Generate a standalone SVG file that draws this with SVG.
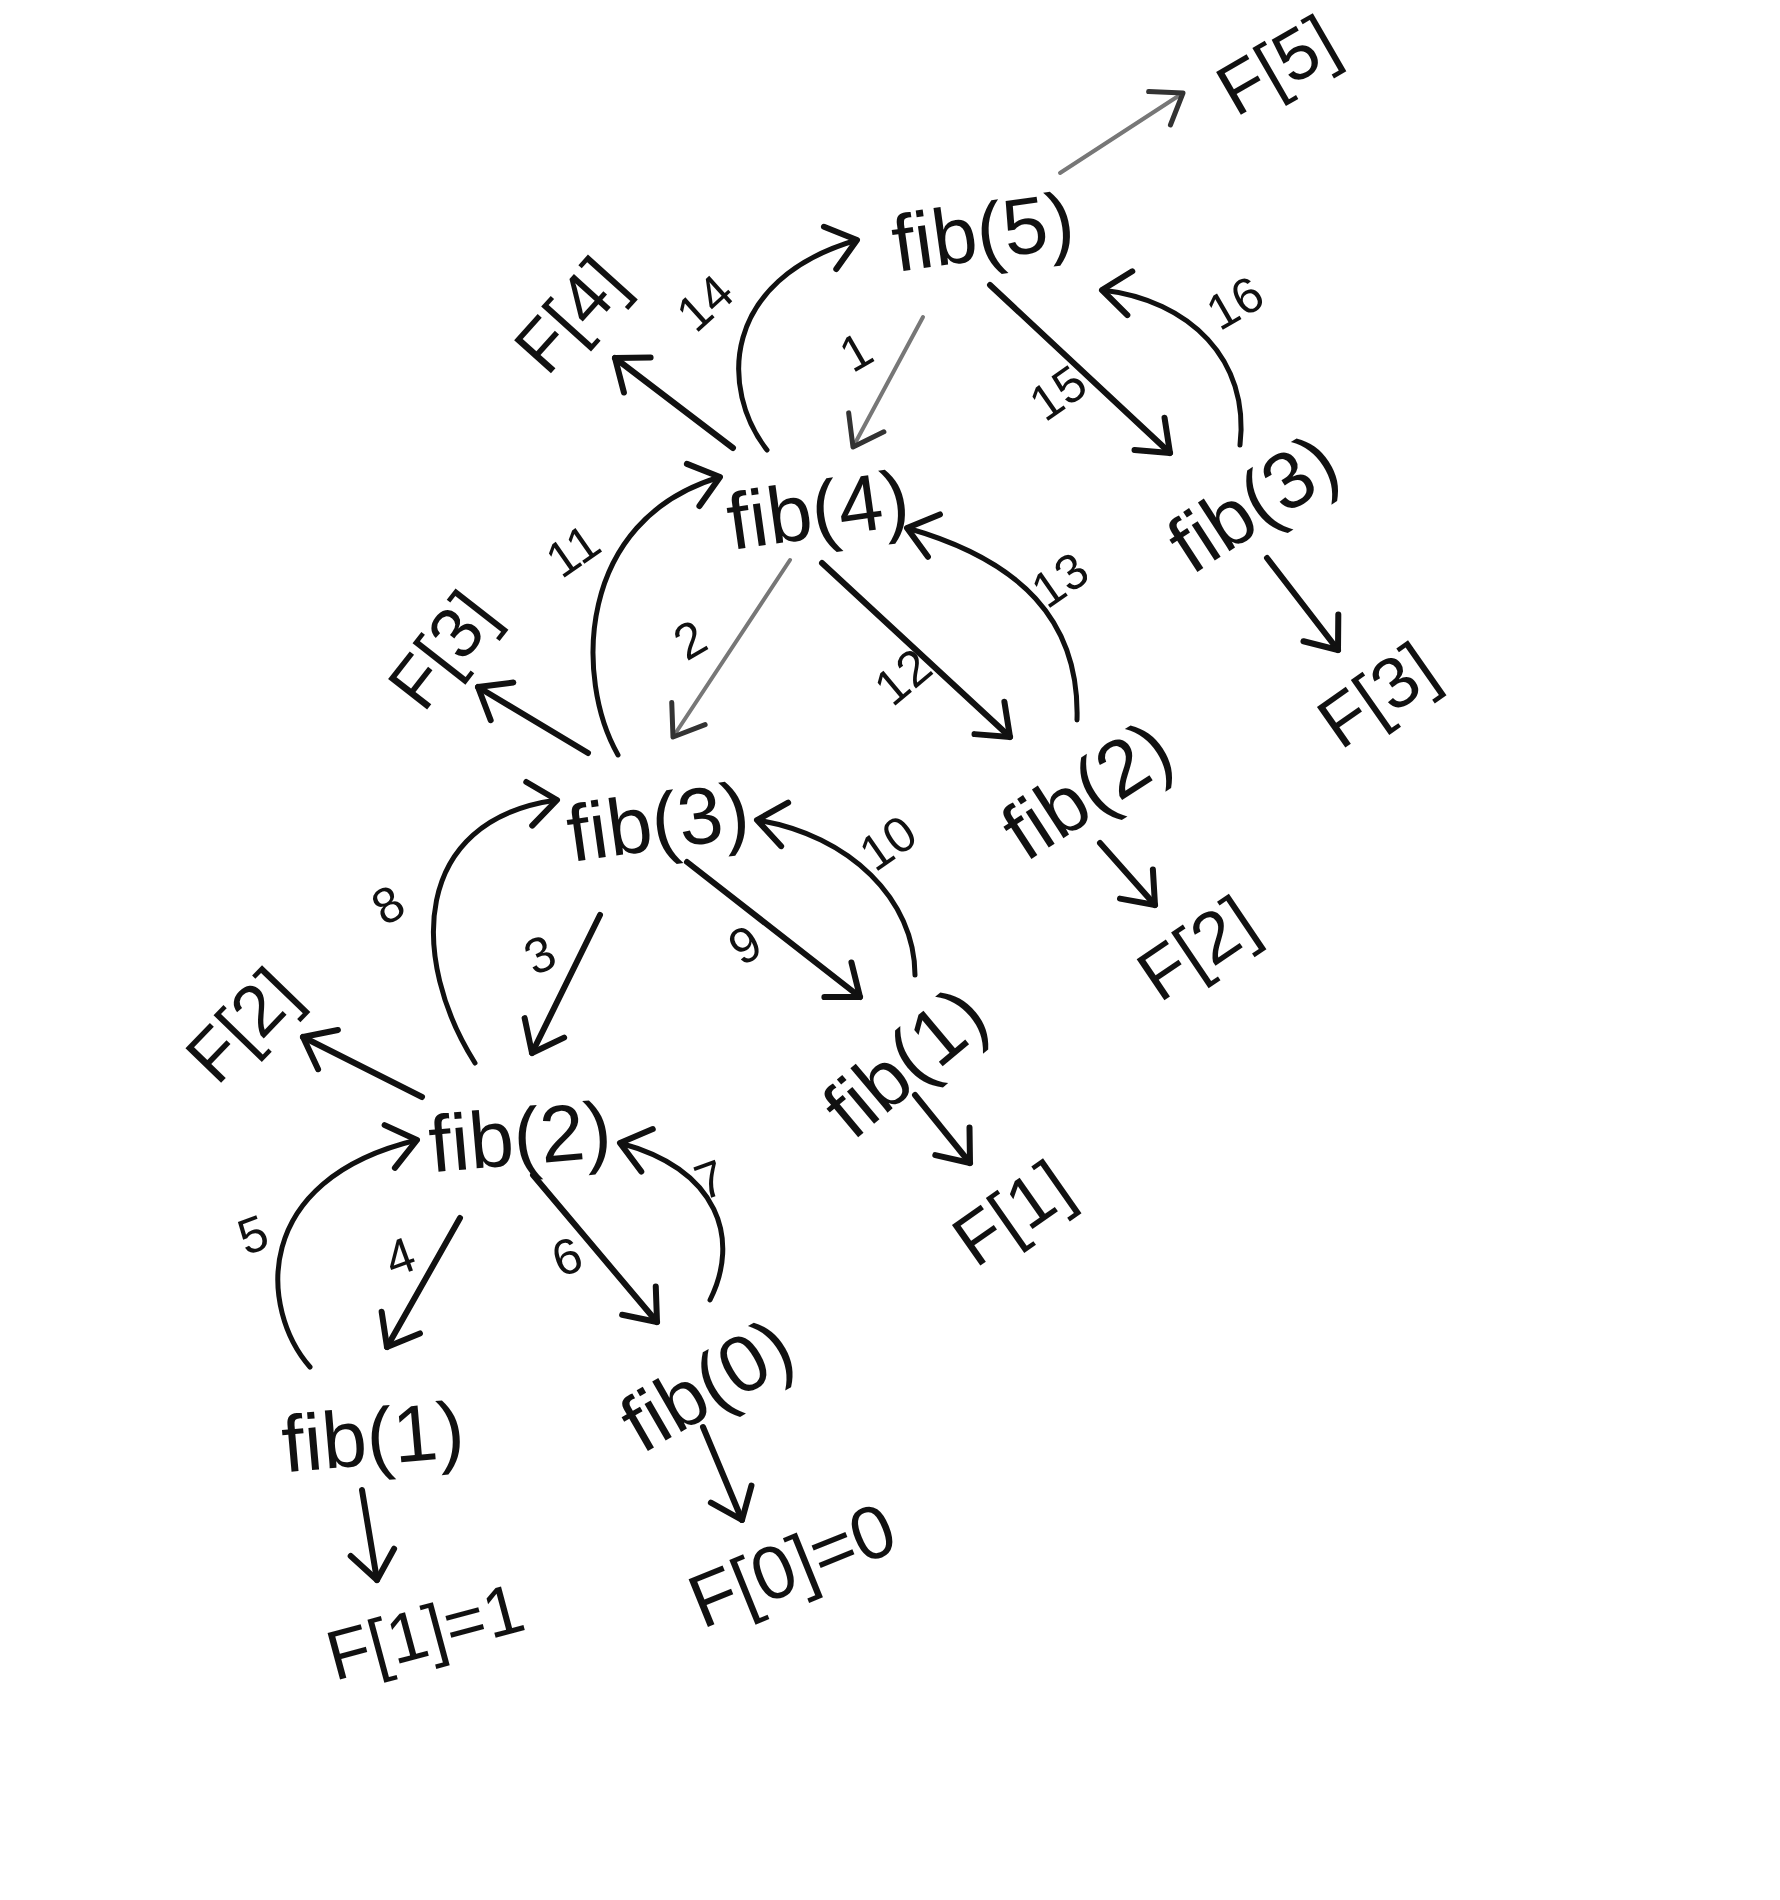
<svg xmlns="http://www.w3.org/2000/svg" width="1780" height="1900" viewBox="0 0 1780 1900">
<style>
.n text{font-family:"Liberation Sans",Arial,sans-serif;fill:#111;text-anchor:middle;dominant-baseline:central}
.fib{font-size:80px}
.fv{font-size:72px}
.lbl{font-family:"Liberation Sans",Arial,sans-serif;font-size:50px;fill:#111;text-anchor:middle;dominant-baseline:central}
.e{fill:none;stroke:#111;stroke-width:6;stroke-linecap:round;marker-end:url(#ah)}
.c{fill:none;stroke:#111;stroke-width:5;stroke-linecap:round;marker-end:url(#ah)}
.g{fill:none;stroke:#777;stroke-width:4;stroke-linecap:round;marker-end:url(#ahg)}
</style>
<defs>
<marker id="ah" markerUnits="userSpaceOnUse" orient="auto" refX="0" refY="0" markerWidth="80" markerHeight="80" viewBox="-40 -40 80 80" overflow="visible">
<path d="M-28,-22 L0,0 L-28,22" fill="none" stroke="#111" stroke-width="6" stroke-linecap="round" stroke-linejoin="round"/>
</marker>
<marker id="ahg" markerUnits="userSpaceOnUse" orient="auto" refX="0" refY="0" markerWidth="80" markerHeight="80" viewBox="-40 -40 80 80" overflow="visible">
<path d="M-28,-20 L0,0 L-28,20" fill="none" stroke="#333" stroke-width="5" stroke-linecap="round" stroke-linejoin="round"/>
</marker>
</defs>
<rect width="1780" height="1900" fill="#fff"/>

<g id="connectors">
<path class="g" d="M1060,173 L1183,93"/>
<path class="e" d="M733,448 L615,358"/>
<path class="g" d="M923,317 L853,447"/>
<path class="e" d="M990,285 L1170,453"/>
<path class="e" d="M1267,558 L1338,650"/>
<path class="e" d="M588,753 L478,687"/>
<path class="g" d="M790,560 L673,737"/>
<path class="e" d="M822,563 L1010,737"/>
<path class="e" d="M1100,843 L1155,905"/>
<path class="e" d="M600,915 L532,1053"/>
<path class="e" d="M687,862 L860,997"/>
<path class="e" d="M915,1095 L970,1163"/>
<path class="e" d="M422,1097 L303,1037"/>
<path class="e" d="M460,1218 L387,1347"/>
<path class="e" d="M533,1175 L657,1322"/>
<path class="e" d="M362,1490 L377,1580"/>
<path class="e" d="M703,1427 L742,1520"/>
<path class="c" d="M767,450 C720,390 720,280 857,240"/>
<path class="c" d="M1240,445 C1250,360 1190,300 1102,290"/>
<path class="c" d="M618,755 C575,680 575,520 720,477"/>
<path class="c" d="M1077,720 C1080,620 1020,560 907,528"/>
<path class="c" d="M475,1063 C410,960 410,820 557,800"/>
<path class="c" d="M915,975 C915,900 850,835 757,820"/>
<path class="c" d="M310,1367 C260,1310 250,1180 417,1140"/>
<path class="c" d="M710,1300 C740,1240 720,1170 620,1143"/>
</g>

<g id="edge-labels">
<text class="lbl" transform="translate(856,352) rotate(-30)">1</text>
<text class="lbl" transform="translate(690,640) rotate(-30)">2</text>
<text class="lbl" transform="translate(540,955) rotate(-25)">3</text>
<text class="lbl" transform="translate(400,1257) rotate(-20)">4</text>
<text class="lbl" transform="translate(253,1235) rotate(-20)">5</text>
<text class="lbl" transform="translate(567,1257) rotate(-20)">6</text>
<text class="lbl" transform="translate(710,1180) rotate(-20)">7</text>
<text class="lbl" transform="translate(388,905) rotate(-30)">8</text>
<text class="lbl" transform="translate(745,945) rotate(-30)">9</text>
<text class="lbl" transform="translate(888,843) rotate(-35)">10</text>
<text class="lbl" transform="translate(573,551) rotate(-35)">11</text>
<text class="lbl" transform="translate(903,677) rotate(-40)">12</text>
<text class="lbl" transform="translate(1060,580) rotate(-35)">13</text>
<text class="lbl" transform="translate(705,303) rotate(-42)">14</text>
<text class="lbl" transform="translate(1058,393) rotate(-35)">15</text>
<text class="lbl" transform="translate(1235,303) rotate(-30)">16</text>
</g>

<g id="fib5" class="n"><text class="fib" transform="translate(983,232) rotate(-8)">fib(5)</text></g>
<g id="F5" class="n"><text class="fv" transform="translate(1277,65) rotate(-30)">F[5]</text></g>
<g id="F4" class="n"><text class="fv" transform="translate(570,315) rotate(-48)">F[4]</text></g>
<g id="fib4" class="n"><text class="fib" transform="translate(818,510) rotate(-8)">fib(4)</text></g>
<g id="fib3r" class="n"><text class="fib" transform="translate(1253,503) rotate(-33)">fib(3)</text></g>
<g id="F3r" class="n"><text class="fv" transform="translate(1377,695) rotate(-35)">F[3]</text></g>
<g id="F3l" class="n"><text class="fv" transform="translate(442,650) rotate(-52)">F[3]</text></g>
<g id="fib3m" class="n"><text class="fib" transform="translate(658,822) rotate(-8)">fib(3)</text></g>
<g id="fib2r" class="n"><text class="fib" transform="translate(1087,790) rotate(-33)">fib(2)</text></g>
<g id="F2r" class="n"><text class="fv" transform="translate(1197,948) rotate(-34)">F[2]</text></g>
<g id="F2l" class="n"><text class="fv" transform="translate(242,1025) rotate(-46)">F[2]</text></g>
<g id="fib2b" class="n"><text class="fib" transform="translate(520,1137) rotate(-5)">fib(2)</text></g>
<g id="fib1m" class="n"><text class="fib" transform="translate(905,1062) rotate(-40)">fib(1)</text></g>
<g id="F1m" class="n"><text class="fv" transform="translate(1012,1213) rotate(-35)">F[1]</text></g>
<g id="fib1b" class="n"><text class="fib" transform="translate(373,1437) rotate(-5)">fib(1)</text></g>
<g id="F1eq" class="n"><text class="fv" style="font-size:70px" transform="translate(425,1632) rotate(-15)">F[1]=1</text></g>
<g id="fib0" class="n"><text class="fib" transform="translate(707,1385) rotate(-30)">fib(0)</text></g>
<g id="F0eq" class="n"><text class="fv" style="font-size:75px" transform="translate(792,1565) rotate(-22)">F[0]=0</text></g>
</svg>
